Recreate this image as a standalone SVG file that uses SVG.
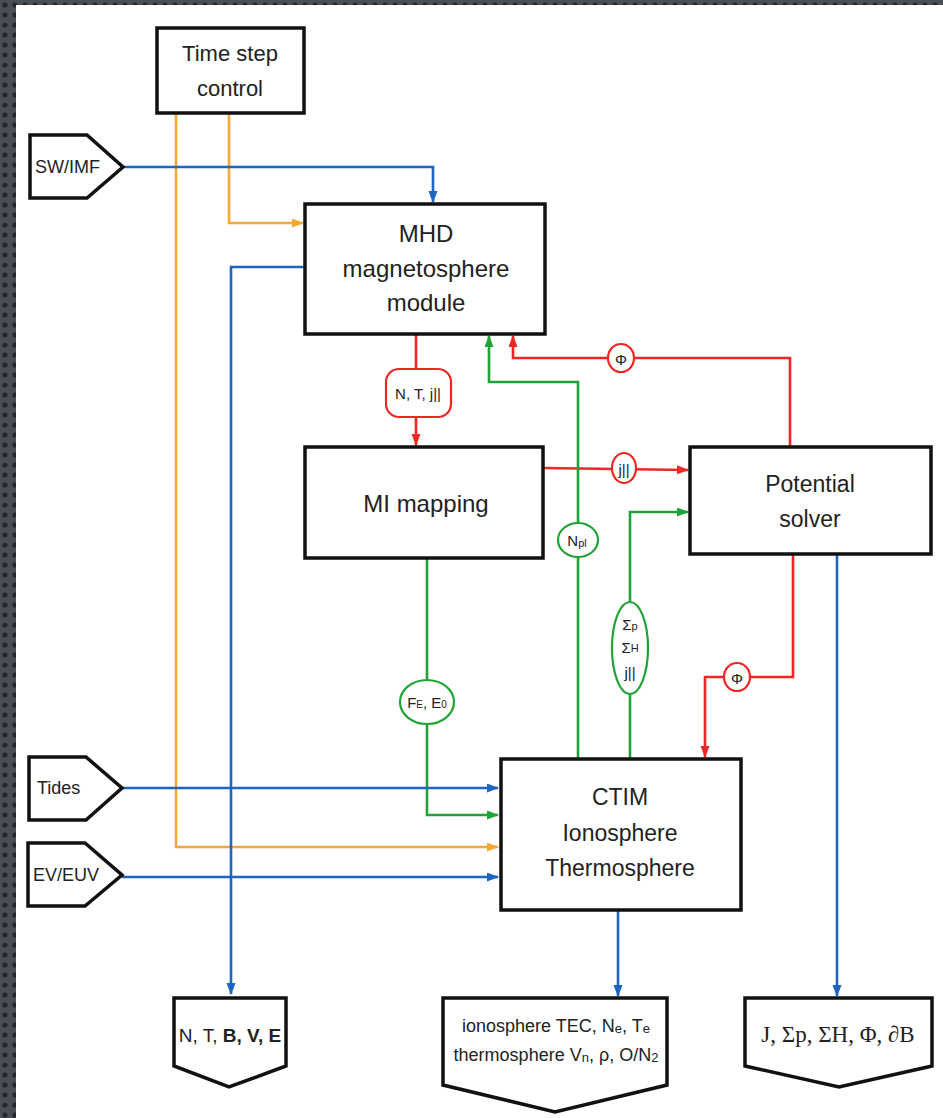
<svg xmlns="http://www.w3.org/2000/svg" width="943" height="1118" viewBox="0 0 943 1118">
<defs>
<pattern id="dots" width="10" height="10" patternUnits="userSpaceOnUse">
<rect width="10" height="10" fill="#4a4e55"/>
<circle cx="5" cy="5" r="2.6" fill="#24272c"/>
</pattern>
<marker id="aB" markerWidth="12" markerHeight="10" refX="11" refY="4.5" orient="auto" markerUnits="userSpaceOnUse"><path d="M0,0 L12,4.5 L0,9 z" fill="#1f64c0"/></marker>
<marker id="aO" markerWidth="12" markerHeight="10" refX="11" refY="4.5" orient="auto" markerUnits="userSpaceOnUse"><path d="M0,0 L12,4.5 L0,9 z" fill="#f5a935"/></marker>
<marker id="aR" markerWidth="12" markerHeight="10" refX="11" refY="4.5" orient="auto" markerUnits="userSpaceOnUse"><path d="M0,0 L12,4.5 L0,9 z" fill="#ee2624"/></marker>
<marker id="aG" markerWidth="12" markerHeight="10" refX="11" refY="4.5" orient="auto" markerUnits="userSpaceOnUse"><path d="M0,0 L12,4.5 L0,9 z" fill="#20a336"/></marker>
</defs>
<style>
.box{fill:#fff;stroke:#111;stroke-width:3.5}
.t{font-family:"Liberation Sans",Arial,sans-serif;fill:#222;text-anchor:middle;dominant-baseline:central}
.c{fill:none;stroke-width:2.6;stroke-linejoin:miter}
.b{stroke:#1f64c0}.o{stroke:#f5a935}.r{stroke:#ee2624}.g{stroke:#20a336}
.lr{fill:#fff;stroke:#ee2624;stroke-width:2.2}
.lg{fill:#fff;stroke:#20a336;stroke-width:2.2}
.s{font-family:"Liberation Sans",Arial,sans-serif;fill:#222;text-anchor:middle;dominant-baseline:central;font-size:15px}
</style>
<rect width="943" height="1118" fill="url(#dots)"/>
<rect x="16" y="5" width="927" height="1113" fill="#fff"/>

<g id="connectors">
<polyline class="c o" points="176,113 176,847 498,847" marker-end="url(#aO)"/>
<polyline class="c o" points="229,113 229,223 303,223" marker-end="url(#aO)"/>
<polyline class="c b" points="123,167 433,167 433,202" marker-end="url(#aB)"/>
<polyline class="c b" points="305,267 231,267 231,994" marker-end="url(#aB)"/>
<polyline class="c r" points="416,334 416,445" marker-end="url(#aR)"/>
<polyline class="c r" points="543,468 688,470" marker-end="url(#aR)"/>
<polyline class="c r" points="790,447 790,358 513,358 513,336" marker-end="url(#aR)"/>
<polyline class="c g" points="578,759 578,382 489,382 489,336" marker-end="url(#aG)"/>
<polyline class="c g" points="630,759 630,512 688,512" marker-end="url(#aG)"/>
<polyline class="c g" points="427,558 427,815 498,815" marker-end="url(#aG)"/>
<polyline class="c r" points="793,554 793,677 705,677 705,757" marker-end="url(#aR)"/>
<polyline class="c b" points="618,910 618,996" marker-end="url(#aB)"/>
<polyline class="c b" points="837,554 837,996" marker-end="url(#aB)"/>
<polyline class="c b" points="122,788 498,788" marker-end="url(#aB)"/>
<polyline class="c b" points="122,877 498,877" marker-end="url(#aB)"/>

<g id="lbl-ntj">
<rect class="lr" x="386" y="369" width="65" height="48" rx="13"/>
<text class="s" x="418" y="393">N, T, j||</text>
</g>
<g id="lbl-jpar">
<ellipse class="lr" cx="624" cy="468" rx="12" ry="15"/>
<text class="s" x="624" y="469">j||</text>
</g>
<g id="lbl-phi1">
<ellipse class="lr" cx="621" cy="358" rx="13" ry="14"/>
<text class="s" x="621" y="359" font-size="15">Φ</text>
</g>
<g id="lbl-npl">
<ellipse class="lg" cx="578" cy="540" rx="20" ry="17"/>
<text class="s" x="577" y="540">N<tspan font-size="11" dy="3">pl</tspan></text>
</g>
<g id="lbl-sigma">
<ellipse class="lg" cx="630" cy="648" rx="18" ry="46"/>
<text class="s" x="630" y="624">Σ<tspan font-size="11" dy="2">p</tspan></text>
<text class="s" x="630" y="647">Σ<tspan font-size="11" dy="1">H</tspan></text>
<text class="s" x="630" y="672">j||</text>
</g>
<g id="lbl-fe">
<ellipse class="lg" cx="427" cy="702" rx="27" ry="22"/>
<text class="s" x="427" y="702" font-size="14">F<tspan font-size="10" dy="2">E</tspan><tspan dy="-2">, E</tspan><tspan font-size="10" dy="2">0</tspan></text>
</g>
<g id="lbl-phi2">
<ellipse class="lr" cx="737" cy="677" rx="13" ry="14"/>
<text class="s" x="737" y="678" font-size="15">Φ</text>
</g>
</g>

<g id="timestep">
<rect class="box" x="157" y="28" width="147" height="85"/>
<text class="t" x="230" y="53" font-size="22">Time step</text>
<text class="t" x="230" y="88" font-size="22">control</text>
</g>
<g id="swimf">
<polygon class="box" points="30,135 87,135 123,167 87,198 30,198"/>
<text class="t" x="35" y="167" font-size="18" style="text-anchor:start">SW/IMF</text>
</g>
<g id="mhd">
<rect class="box" x="305" y="204" width="240" height="130"/>
<text class="t" x="426" y="233" font-size="24">MHD</text>
<text class="t" x="426" y="268" font-size="24">magnetosphere</text>
<text class="t" x="426" y="302" font-size="24">module</text>
</g>
<g id="mimapping">
<rect class="box" x="305" y="447" width="238" height="111"/>
<text class="t" x="426" y="503" font-size="24">MI mapping</text>
</g>
<g id="potential">
<rect class="box" x="690" y="447" width="241" height="107"/>
<text class="t" x="810" y="484" font-size="23">Potential</text>
<text class="t" x="810" y="519" font-size="23">solver</text>
</g>
<g id="ctim">
<rect class="box" x="501" y="759" width="240" height="151"/>
<text class="t" x="620" y="797" font-size="23">CTIM</text>
<text class="t" x="620" y="833" font-size="23">Ionosphere</text>
<text class="t" x="620" y="868" font-size="23">Thermosphere</text>
</g>
<g id="tides">
<polygon class="box" points="29,757 86,757 122,788 86,820 29,820"/>
<text class="t" x="37" y="788" font-size="18" style="text-anchor:start">Tides</text>
</g>
<g id="euv">
<polygon class="box" points="28,843 85,843 122,875 85,906 28,906"/>
<text class="t" x="33" y="875" font-size="18" style="text-anchor:start">EV/EUV</text>
</g>
<g id="out-mhd">
<polygon class="box" points="174,998 286,998 286,1066 229,1087 174,1066"/>
<text class="t" x="230" y="1035" font-size="19">N, T, <tspan font-weight="bold">B, V, E</tspan></text>
</g>
<g id="out-ctim">
<polygon class="box" points="443,998 667,998 667,1085 555,1112 443,1085"/>
<text class="t" x="556" y="1026" font-size="18">ionosphere TEC, N<tspan font-size="13" dy="2">e</tspan><tspan dy="-2">, T</tspan><tspan font-size="13" dy="2">e</tspan></text>
<text class="t" x="556" y="1055" font-size="18">thermosphere V<tspan font-size="13" dy="2">n</tspan><tspan dy="-2">, ρ, O/N</tspan><tspan font-size="13" dy="2">2</tspan></text>
</g>
<g id="out-ps">
<polygon class="box" points="745,998 932,998 932,1066 839,1087 745,1066"/>
<text class="t" x="838" y="1034" font-size="23" style="font-family:'Liberation Serif','Times New Roman',serif">J, Σp, ΣH, Φ, ∂B</text>
</g>
</svg>
